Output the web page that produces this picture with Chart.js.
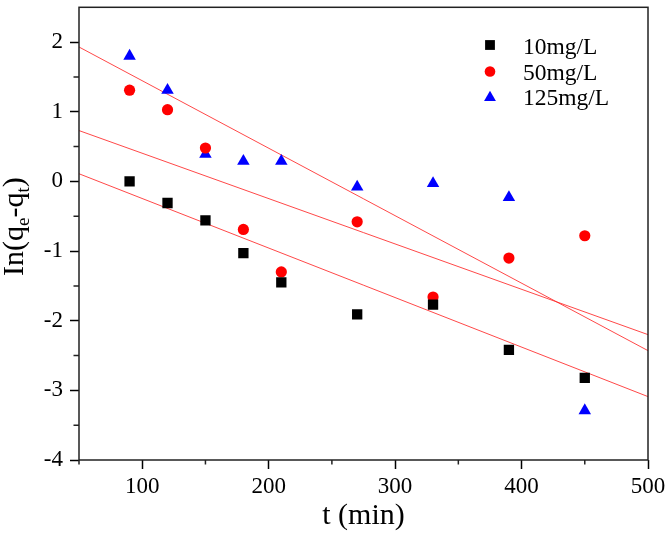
<!DOCTYPE html>
<html>
<head>
<meta charset="utf-8">
<script src="https://cdn.jsdelivr.net/npm/chart.js@4/dist/chart.umd.min.js"></script>
<style>
html,body{margin:0;padding:0;background:#fff;}
#wrap{width:666px;height:534px;position:relative;}
</style>
</head>
<body>
<div id="wrap"><canvas id="c" width="666" height="534"></canvas></div>
<script>
// ---- data ----
const times = [90, 120, 150, 180, 210, 270, 330, 390, 450];
const c10  = [0.00, -0.31, -0.56, -1.03, -1.45, -1.91, -1.77, -2.42, -2.82];
const c50  = [1.31, 1.03, 0.48, -0.69, -1.30, -0.58, -1.66, -1.10, -0.78];
const c125 = [1.80, 1.31, 0.39, 0.29, 0.29, -0.08, -0.03, -0.23, -3.29];
const fitT   = [50, 500];
const fit10  = [0.11, -3.09];
const fit50  = [0.73, -2.20];
const fit125 = [1.93, -2.43];
const seriesLabels = ['10mg/L', '50mg/L', '125mg/L'];
const xMajorTicks = [100, 200, 300, 400, 500];
const xMinorTicks = [50, 150, 250, 350, 450];
const yMajorTicks = [-4, -3, -2, -1, 0, 1, 2];
const yMinorTicks = [-3.5, -2.5, -1.5, -0.5, 0.5, 1.5];

const FONT = '"Liberation Serif", "Times New Roman", serif';
const pts = (xs, ys) => xs.map((x, i) => ({x: x, y: ys[i]}));

const pointDs = (label, data, style, color, r) => ({
  label: label, data: data, pointStyle: style, pointRadius: r, pointHoverRadius: r,
  backgroundColor: color, borderColor: color, borderWidth: 0, showLine: false, isLegend: true
});
const fitDs = (data) => ({
  label: 'fit', data: data, showLine: true, pointRadius: 0, borderColor: 'rgba(255,40,40,0.85)',
  borderWidth: 1, backgroundColor: 'transparent', isLegend: false
});

const frameTicks = {
  id: 'frameTicks',
  afterDraw(chart) {
    const ctx = chart.ctx, a = chart.chartArea;
    const xs = chart.scales.x, ys = chart.scales.y;
    ctx.save();
    ctx.strokeStyle = '#222';
    ctx.lineWidth = 1.5;
    ctx.strokeRect(a.left, a.top, a.right - a.left, a.bottom - a.top);
    ctx.beginPath();
    xMinorTicks.forEach(v => { const p = xs.getPixelForValue(v); ctx.moveTo(p, a.bottom); ctx.lineTo(p, a.bottom + 4.5); });
    yMinorTicks.forEach(v => { const p = ys.getPixelForValue(v); ctx.moveTo(a.left, p); ctx.lineTo(a.left - 5.5, p); });
    ctx.stroke();

    // legend
    const lx = 490, tx = 523;
    const rowsMarker = [45, 71.5, 97.5];
    const rowsBase = [53.5, 79.5, 105];
    ctx.fillStyle = '#000';
    ctx.font = '23.5px ' + FONT;
    ctx.textBaseline = 'alphabetic';
    ctx.textAlign = 'left';
    const legendSets = chart.data.datasets.filter(d => d.isLegend);
    legendSets.forEach((d, i) => {
      ctx.save();
      ctx.fillStyle = d.backgroundColor;
      ctx.strokeStyle = d.backgroundColor;
      ctx.lineWidth = 0;
      Chart.helpers.drawPoint(ctx, {pointStyle: d.pointStyle, radius: d.pointRadius * 0.95, borderWidth: 0, rotation: 0}, lx, rowsMarker[i]);
      ctx.restore();
      ctx.fillStyle = '#000';
      ctx.fillText(d.label, tx, rowsBase[i]);
    });

    // x title
    ctx.font = '30px ' + FONT;
    ctx.textAlign = 'center';
    ctx.fillText('t (min)', (a.left + a.right) / 2, 524);

    // y title with subscripts
    ctx.save();
    ctx.translate(23, 276);
    ctx.rotate(-Math.PI / 2);
    ctx.textAlign = 'left';
    const big = '30px ' + FONT, small = '19px ' + FONT;
    const parts = [['In(q', big, 0], ['e', small, 6], ['-q', big, 0], ['t', small, 6], [')', big, 0]];
    let cx = 0;
    parts.forEach(p => {
      ctx.font = p[1];
      ctx.fillText(p[0], cx, p[2]);
      cx += ctx.measureText(p[0]).width;
    });
    ctx.restore();
    ctx.restore();
  }
};

new Chart(document.getElementById('c'), {
  type: 'scatter',
  data: {
    datasets: [
      pointDs(seriesLabels[0], pts(times, c10), 'rect', '#000000', 7.3),
      pointDs(seriesLabels[1], pts(times, c50), 'circle', '#ff0000', 5.6),
      pointDs(seriesLabels[2], pts(times, c125), 'triangle', '#0000ff', 7.2),
      fitDs(pts(fitT, fit10)),
      fitDs(pts(fitT, fit50)),
      fitDs(pts(fitT, fit125))
    ]
  },
  options: {
    responsive: false,
    animation: false,
    devicePixelRatio: 1,
    layout: {padding: {left: 0, top: 2, right: 18, bottom: 0}},
    plugins: {legend: {display: false}, tooltip: {enabled: false}},
    scales: {
      x: {
        type: 'linear', min: 50, max: 500,
        ticks: {
          stepSize: 100, color: '#000', padding: 4,
          font: {family: FONT, size: 23},
          callback: v => xMajorTicks.includes(v) ? String(v) : ''
        },
        grid: {
          drawOnChartArea: false, drawTicks: true, tickLength: 9, tickWidth: 1.5,
          tickColor: c => (c.tick && xMajorTicks.includes(c.tick.value)) ? '#000' : 'rgba(0,0,0,0)'
        },
        border: {display: false},
        afterFit: s => { s.height = 74; s.paddingLeft = 0; s.paddingRight = 0; }
      },
      y: {
        type: 'linear', min: -4, max: 2.5,
        ticks: {
          stepSize: 1, color: '#000', padding: 7,
          font: {family: FONT, size: 23},
          callback: v => yMajorTicks.includes(v) ? String(v) : ''
        },
        grid: {
          drawOnChartArea: false, drawTicks: true, tickLength: 9, tickWidth: 1.5,
          tickColor: c => (c.tick && yMajorTicks.includes(c.tick.value)) ? '#000' : 'rgba(0,0,0,0)'
        },
        border: {display: false},
        afterFit: s => { s.width = 79; s.paddingTop = 0; s.paddingBottom = 0; }
      }
    }
  },
  plugins: [frameTicks]
});
</script>
</body>
</html>
